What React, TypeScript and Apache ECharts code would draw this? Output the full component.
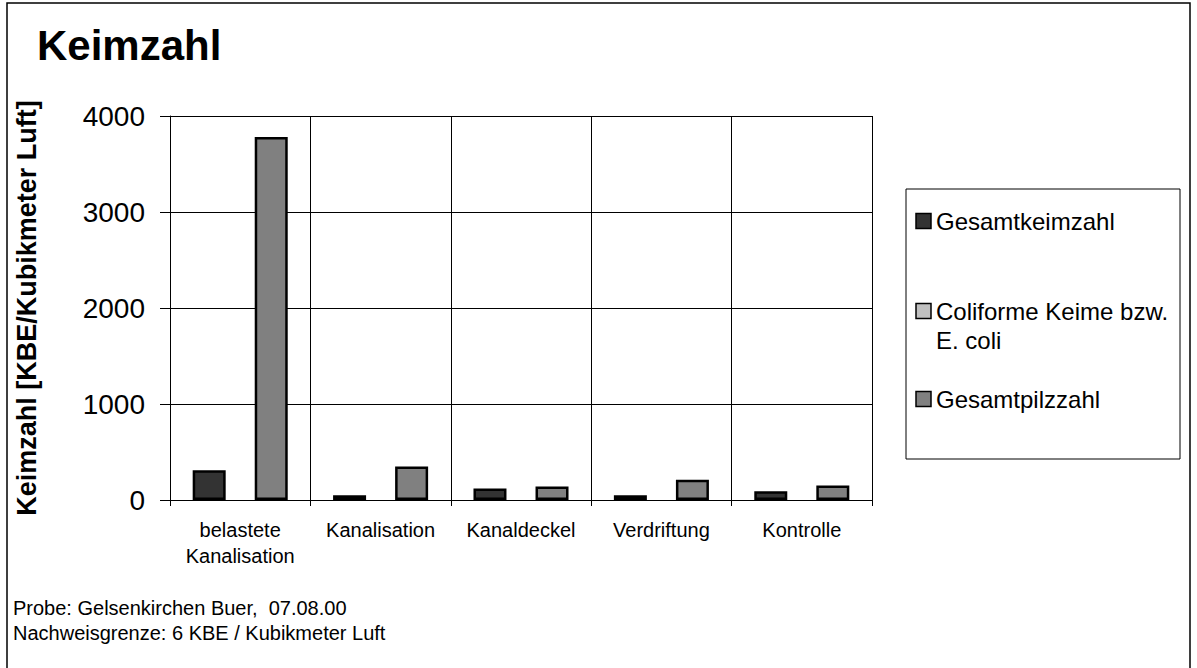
import React, { useEffect, useRef } from "react";
import * as echarts from "echarts";

const categories = ["belastete\nKanalisation", "Kanalisation", "Kanaldeckel", "Verdriftung", "Kontrolle"];
const seriesNames = ["Gesamtkeimzahl", "Coliforme Keime bzw.\nE. coli", "Gesamtpilzzahl"];
const gesamtkeimzahl = [310, 50, 120, 50, 90];
const coliforme: (number | null)[] = [null, null, null, null, null];
const gesamtpilzzahl = [3780, 350, 140, 210, 150];
const yMin = 0;
const yMax = 4000;
const yInterval = 1000;
const titleText = "Keimzahl";
const yAxisName = "Keimzahl [KBE/Kubikmeter Luft]";
const footerLines = ["Probe: Gelsenkirchen Buer,  07.08.00", "Nachweisgrenze: 6 KBE / Kubikmeter Luft"];
const seriesColors = ["#333333", "#c0c0c0", "#808080"];

const FONT = "'Liberation Sans', Arial, sans-serif";

export default function App() {
  const ref = useRef<HTMLDivElement>(null);
  useEffect(() => {
    if (!ref.current) return;
    const chart = echarts.init(ref.current, null, { renderer: "svg" });
    const seriesData = [gesamtkeimzahl, coliforme, gesamtpilzzahl];
    const legendY = [221, 311, 399];
    const legendEls: any[] = [];
    seriesNames.forEach((name, i) => {
      const cy = legendY[i];
      legendEls.push({
        type: "rect",
        shape: { x: 916, y: cy - 7.5, width: 15, height: 15 },
        style: { fill: seriesColors[i], stroke: "#000", lineWidth: 1.5 },
        z: 10,
      });
      legendEls.push({
        type: "text",
        x: 936,
        y: cy - 14.5,
        style: {
          text: name,
          font: `24px ${FONT}`,
          fill: "#000",
          verticalAlign: "top",
          lineHeight: 29,
        },
        z: 10,
      });
    });
    const footerEls = footerLines.map((t, i) => ({
      type: "text",
      x: 13,
      y: 608 + i * 25,
      style: { text: t, font: `20px ${FONT}`, fill: "#000", verticalAlign: "middle" },
      z: 10,
    }));

    chart.setOption({
      animation: false,
      backgroundColor: "#fff",
      textStyle: { fontFamily: FONT },
      title: {
        text: titleText,
        left: 32,
        top: 19,
        textStyle: { fontSize: 42, fontWeight: "bold", color: "#000", fontFamily: FONT },
      },
      grid: { left: 170, right: 325, top: 116, bottom: 168 },
      xAxis: {
        type: "category",
        data: categories,
        axisLine: { show: true, lineStyle: { color: "#000", width: 1 } },
        axisTick: { show: true, length: 6, interval: 0, lineStyle: { color: "#000" } },
        splitLine: { show: true, interval: 0, lineStyle: { color: "#000", width: 1 } },
        axisLabel: {
          interval: 0,
          color: "#000",
          fontSize: 20,
          lineHeight: 26,
          margin: 17,
          fontFamily: FONT,
        },
      },
      yAxis: {
        type: "value",
        min: yMin,
        max: yMax,
        interval: yInterval,
        name: yAxisName,
        nameLocation: "middle",
        nameRotate: 90,
        nameGap: 130,
        nameTextStyle: { fontSize: 27, fontWeight: "bold", color: "#000", fontFamily: FONT },
        axisLine: { show: true, lineStyle: { color: "#000", width: 1 } },
        axisTick: { show: true, length: 10, lineStyle: { color: "#000" } },
        splitLine: { show: true, lineStyle: { color: "#000", width: 1 } },
        axisLabel: {
          color: "#000",
          fontSize: 28,
          margin: 25,
          fontFamily: FONT,
          formatter: (v: number) => String(v),
        },
      },
      series: seriesNames.map((name, i) => ({
        type: "bar",
        name,
        data: seriesData[i],
        barWidth: 33,
        barGap: "-6%",
        itemStyle: { color: seriesColors[i], borderColor: "#000", borderWidth: 2.5 },
      })),
      graphic: [
        {
          type: "rect",
          shape: { x: 7, y: 3, width: 1183, height: 700 },
          style: { fill: "none", stroke: "#000", lineWidth: 1.5 },
          z: 0,
          silent: true,
        },
        {
          type: "rect",
          shape: { x: 906, y: 189, width: 274, height: 270 },
          style: { fill: "#fff", stroke: "#000", lineWidth: 1 },
          z: 5,
        },
        ...legendEls,
        ...footerEls,
      ],
    });
    return () => chart.dispose();
  }, []);
  return (
    <div
      ref={ref}
      style={{ position: "fixed", left: 0, top: 0, width: 1197, height: 668, background: "#fff" }}
    />
  );
}
